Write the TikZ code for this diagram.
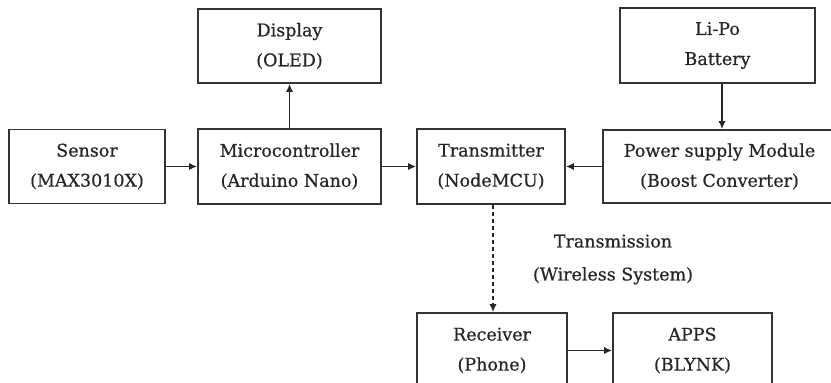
\documentclass[tikz,border=0pt]{standalone}
\usepackage{fontspec}
\setmainfont{DejaVu Serif}[FakeBold=0.6]
\usetikzlibrary{arrows.meta}
\begin{document}
\begin{tikzpicture}[x=1pt,y=-1pt,
  blk/.style={draw=black!80, line width=1.6pt, align=center, inner sep=0pt,
    font=\fontsize{17.5}{30}\selectfont, text=black!85},
  lbl/.style={align=center, inner sep=0pt, font=\fontsize{17.5}{33}\selectfont, text=black!85},
  arr/.style={-{Latex[length=8pt,width=7pt]}, line width=1.5pt, draw=black!85}]
\useasboundingbox (0,0) rectangle (831,383);
\clip (0,0) rectangle (831,383);
\node[blk, minimum width=156pt, minimum height=74pt] (sensor) at (87,166.5) {Sensor\\(MAX3010X)};
\node[blk, minimum width=183pt, minimum height=75pt] (micro) at (289.5,166.5) {Microcontroller\\(Arduino Nano)};
\node[blk, minimum width=183pt, minimum height=74pt] (display) at (289.5,46) {Display\\(OLED)};
\node[blk, minimum width=148pt, minimum height=75pt] (trans) at (491,166.5) {Transmitter\\(NodeMCU)};
\node[blk, minimum width=233pt, minimum height=73pt] (power) at (719.5,166.5) {Power supply Module\\(Boost Converter)};
\node[blk, minimum width=195pt, minimum height=75pt] (lipo) at (717.5,45.5) {Li-Po\\Battery};
\node[blk, minimum width=150pt, minimum height=75pt] (recv) at (492,350.5) {Receiver\\(Phone)};
\node[blk, minimum width=159pt, minimum height=75pt] (apps) at (692.5,350.5) {APPS\\(BLYNK)};
\node[lbl] (tx) at (613,259.5) {Transmission\\(Wireless System)};
\draw[arr] (sensor.east) -- (micro.west);
\draw[arr] (micro.east) -- (trans.west);
\draw[arr] (power.west) -- (trans.east);
\draw[arr] (micro.north) -- (display.south);
\coordinate (b) at ([xshift=4.5pt]lipo.south);
\draw[arr] (b) -- (b |- power.north);
\coordinate (d) at ([xshift=2pt]trans.south);
\draw[arr, dash pattern=on 4pt off 3pt] (d) -- (d |- recv.north);
\draw[arr] (recv.east) -- (apps.west);
\end{tikzpicture}
\end{document}
